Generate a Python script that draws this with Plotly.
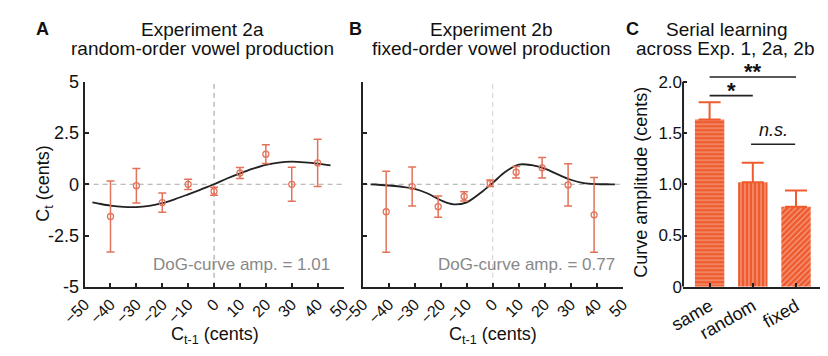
import plotly.graph_objects as go

# ---------------- data ----------------
bins_a = [-40, -30, -20, -10, 0, 10, 20, 30, 40]
mean_a = [-1.57, -0.07, -0.89, 0.0, -0.34, 0.55, 1.47, 0.0, 1.04]
err_a = [1.73, 0.84, 0.47, 0.25, 0.19, 0.27, 0.46, 0.83, 1.15]

curve_x = [-47, -45, -40, -35, -30, -25, -20, -15, -10, -5, 0, 5, 10, 15, 20, 25, 30, 35, 40, 45]
curve_a = [-0.88, -0.93, -1.04, -1.10, -1.11, -1.05, -0.92, -0.72, -0.49, -0.25, 0.0,
           0.28, 0.53, 0.76, 0.95, 1.06, 1.10, 1.07, 1.01, 0.92]

bins_b = [-41, -31, -21, -11, -1, 9, 19, 29, 39]
mean_b = [-1.34, -0.11, -1.09, -0.59, 0.05, 0.59, 0.80, -0.03, -1.49]
err_b = [1.97, 0.95, 0.52, 0.22, 0.16, 0.28, 0.50, 1.03, 1.82]

curve_b_x = [-47, -45, -40, -35, -30, -25, -20, -15, -10, -5, 0, 5, 10, 15, 20, 25, 30, 35, 40, 45, 47]
curve_b = [0.0, -0.01, -0.06, -0.12, -0.22, -0.45, -0.78, -0.98, -0.88, -0.45, 0.07,
           0.62, 0.96, 0.93, 0.76, 0.48, 0.22, 0.06, 0.01, 0.0, 0.0]

amp_text = ["DoG-curve amp. = 1.01", "DoG-curve amp. = 0.77"]

conds = ["same", "random", "fixed"]
amp = [1.63, 1.02, 0.78]
sem = [0.17, 0.19, 0.16]
patterns = ["-", "|", "/"]

# significance comparisons: (from index, to index, label, bracket height)
comparisons = [(0, 2, "**", 2.045), (0, 1, "*", 1.864), (0.96, 1.98, "n.s.", 1.389)]

xticks_ab = [-50, -40, -30, -20, -10, 0, 10, 20, 30, 40, 50]
yticks_ab = [-5, -2.5, 0, 2.5, 5]
yticklabels_ab = ["-5", "-2.5", "0", "2.5", "5"]
yticks_c = [0, 0.5, 1.0, 1.5, 2.0]
yticklabels_c = ["0", "0.5", "1.0", "1.5", "2.0"]

# ---------------- style ----------------
FONT = "Liberation Sans, Arial, sans-serif"
PT = "#E2735B"
BAR = "#EE5B2E"
AX = "#222222"
TXT = "#111111"

fig = go.Figure()

for i, (bx, m, e, cx, cy) in enumerate([(bins_a, mean_a, err_a, curve_x, curve_a),
                                         (bins_b, mean_b, err_b, curve_b_x, curve_b)]):
    xa = "x" if i == 0 else "x2"
    ya = "y" if i == 0 else "y2"
    fig.add_trace(go.Scatter(x=[-50, 50], y=[0, 0], mode="lines", xaxis=xa, yaxis=ya,
                             line=dict(color="#A8A8A8", width=1, dash="5px,4px"),
                             hoverinfo="skip", showlegend=False))
    fig.add_trace(go.Scatter(x=[0, 0], y=[-5, 5], mode="lines", xaxis=xa, yaxis=ya,
                             line=dict(color="#999999" if i == 0 else "#D0D0D0", width=1, dash="5px,4px"),
                             hoverinfo="skip", showlegend=False))
    fig.add_trace(go.Scatter(x=cx, y=cy, mode="lines", xaxis=xa, yaxis=ya,
                             line=dict(color=AX, width=1.8, shape="spline"),
                             showlegend=False))
    fig.add_trace(go.Scatter(x=bx, y=m, mode="markers", xaxis=xa, yaxis=ya,
                             marker=dict(symbol="circle-open", size=6, color=PT, line=dict(width=1.3, color=PT)),
                             error_y=dict(type="data", array=e, color=PT, thickness=1.5, width=4),
                             showlegend=False))

fig.add_trace(go.Bar(x=[0, 1, 2], y=amp, xaxis="x3", yaxis="y3", width=0.68,
                     marker=dict(color=BAR, line=dict(width=0),
                                 pattern=dict(shape=patterns, fgcolor="white", bgcolor=BAR,
                                              size=4, solidity=0.25, fillmode="overlay")),
                     error_y=dict(type="data", symmetric=False, array=sem, arrayminus=[0, 0, 0],
                                  color=BAR, thickness=2, width=11),
                     showlegend=False))

shapes = []
annotations = []
for (a, b, lab, h) in comparisons:
    shapes.append(dict(type="line", xref="x3", yref="y3", x0=a, x1=b, y0=h, y1=h,
                       line=dict(color=AX, width=1.6)))
    if lab == "n.s.":
        annotations.append(dict(xref="x3", yref="y3", x=(a + b) / 2, y=h, text="<i>n.s.</i>",
                                showarrow=False, yanchor="bottom", yshift=2,
                                font=dict(family=FONT, size=18, color=TXT)))
    else:
        annotations.append(dict(xref="x3", yref="y3", x=(a + b) / 2, y=h, text="<b>" + lab + "</b>",
                                showarrow=False, yanchor="bottom", yshift=-9,
                                font=dict(family=FONT, size=22, color=TXT)))

# y-axis line of panel C only up to 2.0
shapes.append(dict(type="line", xref="x3 domain", yref="y3", x0=0, x1=0, y0=0, y1=2.0,
                   line=dict(color=AX, width=2)))

for i, t in enumerate(amp_text):
    annotations.append(dict(xref="x" if i == 0 else "x2", yref="y" if i == 0 else "y2",
                            x=45.5 if i == 0 else 48, y=-3.9, text=t, showarrow=False,
                            xanchor="right", yanchor="middle",
                            font=dict(family=FONT, size=17, color="#888888")))

W, H = 828, 356


def px(x):
    return x / W


def py(y):
    return 1 - y / H


def txt(x, y, s, size=16, bold=False, angle=0, xanchor="center"):
    annotations.append(dict(xref="paper", yref="paper", x=px(x), y=py(y), text=("<b>%s</b>" % s) if bold else s,
                            showarrow=False, xanchor=xanchor, yanchor="middle", textangle=angle,
                            font=dict(family=FONT, size=size, color=TXT)))


TS = 19
txt(20, 20, "A", 18, True)
txt(186, 21, "Experiment 2a", TS)
txt(186, 41, "random-order vowel production", TS)
txt(345, 20, "B", 18, True)
txt(487, 21, "Experiment 2b", TS)
txt(487, 41, "fixed-order vowel production", TS)
txt(633, 20, "C", 18, True)
txt(731, 21, "Serial learning", TS)
txt(730, 41, "across Exp. 1, 2a, 2b", TS)
txt(23, 184, "C<sub>t</sub> (cents)", 18, angle=-90)
txt(199, 345, "C<sub>t-1</sub> (cents)", 18)
txt(488, 345, "C<sub>t-1</sub> (cents)", 18)
txt(642, 182, "Curve amplitude (cents)", 18, angle=-90)

ydom = [py(293.3), py(76)]
ydom_c = [py(293.3), py(59.6)]

common_x = dict(range=[-50, 50], tickvals=xticks_ab, ticks="inside", ticklen=4, tickwidth=1.5,
                tickcolor=AX, showline=True, linecolor=AX, linewidth=2, showgrid=False, zeroline=False,
                tickangle=-45, tickfont=dict(family=FONT, size=16, color=TXT))
common_y = dict(range=[-5, 5], tickvals=yticks_ab, ticktext=yticklabels_ab,
                ticks="inside", ticklen=4, tickwidth=1.5, tickcolor=AX,
                showline=True, linecolor=AX, linewidth=2, showgrid=False, zeroline=False,
                tickfont=dict(family=FONT, size=18, color=TXT), domain=ydom)

fig.update_layout(
    width=W, height=H, margin=dict(l=0, r=0, t=0, b=0),
    plot_bgcolor="white", paper_bgcolor="white", showlegend=False,
    xaxis=dict(common_x, domain=[px(64), px(333)], anchor="y"),
    yaxis=dict(common_y, anchor="x"),
    xaxis2=dict(common_x, domain=[px(353), px(623)], anchor="y2"),
    yaxis2=dict(common_y, anchor="x2", showticklabels=False),
    xaxis3=dict(domain=[px(685.7), 1.0], anchor="y3", range=[-0.615, 2.555],
                tickvals=[0, 1, 2], ticktext=conds, tickangle=-30, ticks="inside", ticklen=4,
                tickwidth=1.5, tickcolor=AX, showline=True, linecolor=AX, linewidth=2,
                showgrid=False, zeroline=False, tickfont=dict(family=FONT, size=18, color=TXT)),
    yaxis3=dict(domain=ydom_c, anchor="x3", range=[0, 2.15], tickvals=yticks_c, ticktext=yticklabels_c,
                ticks="inside", ticklen=4, tickwidth=1.5, tickcolor=AX, showline=False,
                showgrid=False, zeroline=False, tickfont=dict(family=FONT, size=17, color=TXT)),
    shapes=shapes, annotations=annotations,
)

fig.write_html("out.html")
